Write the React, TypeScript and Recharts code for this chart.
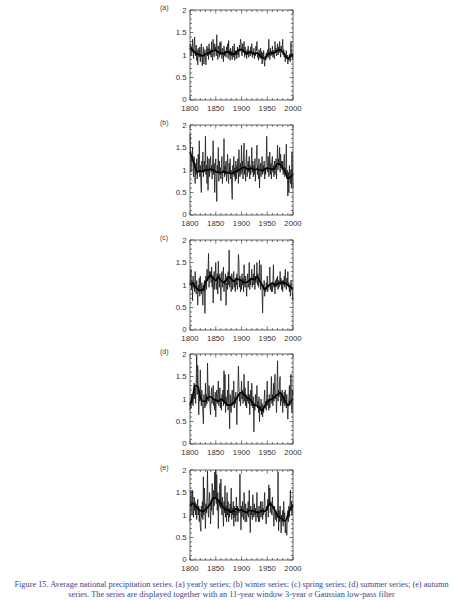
import { LineChart, Line, XAxis, YAxis } from "recharts"

// annual values (x100), one per year starting 1800
const firstYear = 1800
const smoothStep = 5

const yearly = [
  112, 125, 98, 118, 105, 135, 110, 92, 120, 140,
  105, 98, 122, 88, 110, 78, 115, 102, 95, 118,
  85, 110, 125, 92, 76, 105, 118, 80, 100, 112,
  95, 78, 108, 120, 98, 115, 90, 125, 105, 100,
  112, 95, 130, 102, 88, 135, 108, 96, 125, 110,
  118, 98, 145, 105, 90, 120, 110, 95, 128, 100,
  130, 102, 92, 115, 108, 85, 120, 98, 110, 102,
  95, 118, 105, 125, 92, 132, 100, 110, 88, 115,
  98, 108, 90, 120, 102, 95, 125, 88, 110, 100,
  105, 92, 118, 100, 112, 95, 122, 108, 135, 130,
  110, 98, 125, 105, 115, 130, 95, 118, 100, 108,
  92, 112, 100, 120, 95, 105, 110, 98, 118, 102,
  125, 95, 108, 100, 115, 92, 105, 98, 120, 110,
  130, 95, 105, 88, 112, 100, 92, 115, 98, 108,
  80, 105, 95, 110, 85, 75, 98, 88, 105, 92,
  100, 112, 95, 135, 105, 90, 115, 98, 108, 100,
  120, 95, 110, 102, 92, 130, 105, 115, 98, 112,
  125, 100, 118, 105, 130, 110, 95, 120, 108, 115,
  135, 100, 112, 95, 105, 85, 98, 110, 92, 100,
  80, 95, 88, 102, 90, 85, 130, 95, 105, 92,
  102,
]
const yearlySmooth = [
  115, 112, 105, 102, 100, 98, 102, 104, 106, 110, 110, 106, 105, 103, 106, 107, 103, 102, 106, 112,
  112, 108, 104, 106, 105, 103, 104, 100, 94, 92, 100, 104, 104, 106, 110, 112, 106, 98, 92, 98, 100,
]

const winter = [
  180, 140, 95, 130, 120, 150, 100, 85, 130, 110,
  70, 115, 90, 125, 80, 100, 135, 95, 165, 85,
  110, 75, 50, 120, 95, 140, 85, 105, 120, 95,
  175, 90, 110, 70, 130, 55, 100, 125, 85, 115,
  130, 95, 110, 80, 120, 165, 90, 115, 50, 105,
  125, 85, 30, 110, 95, 150, 75, 120, 90, 105,
  80, 115, 130, 70, 100, 95, 170, 85, 110, 90,
  120, 75, 105, 135, 90, 70, 115, 95, 125, 80,
  100, 60, 35, 110, 90, 130, 85, 105, 75, 120,
  80, 110, 95, 125, 70, 145, 100, 85, 115, 90,
  155, 95, 120, 80, 135, 160, 90, 110, 75, 125,
  145, 85, 105, 120, 95, 130, 80, 110, 90, 115,
  150, 95, 120, 85, 110, 90, 125, 75, 105, 130,
  155, 90, 110, 80, 125, 60, 100, 115, 85, 105,
  130, 90, 110, 95, 120, 80, 105, 90, 125, 175,
  110, 95, 130, 85, 105, 140, 90, 115, 80, 120,
  130, 95, 110, 85, 120, 90, 105, 125, 80, 115,
  155, 100, 125, 110, 150, 95, 135, 105, 120, 100,
  120, 90, 110, 135, 85, 105, 95, 157, 80, 100,
  42, 95, 50, 110, 85, 70, 100, 60, 140, 90,
  60,
]
const winterSmooth = [
  140, 125, 105, 96, 98, 97, 100, 100, 102, 100, 96, 95, 94, 96, 95, 94, 92, 94, 97, 100,
  104, 106, 103, 102, 104, 100, 102, 100, 99, 101, 104, 103, 102, 104, 114, 112, 104, 96, 82, 84, 92,
]

const spring = [
  100, 115, 135, 90, 110, 65, 120, 95, 105, 85,
  130, 95, 80, 110, 90, 55, 100, 85, 115, 75,
  120, 90, 80, 105, 75, 55, 100, 85, 110, 37,
  105, 120, 90, 135, 110, 125, 170, 95, 130, 115,
  130, 105, 140, 95, 120, 60, 115, 130, 90, 120,
  150, 105, 90, 125, 80, 153, 110, 95, 125, 100,
  65, 115, 130, 95, 120, 140, 85, 110, 100, 125,
  55, 105, 120, 90, 130, 100, 178, 95, 120, 110,
  85, 125, 105, 90, 120, 130, 95, 110, 85, 115,
  100, 125, 90, 110, 168, 150, 95, 120, 85, 110,
  90, 125, 100, 115, 85, 145, 105, 95, 120, 100,
  75, 110, 125, 95, 105, 150, 90, 115, 100, 120,
  135, 95, 110, 125, 100, 145, 90, 120, 105, 115,
  150, 100, 125, 95, 115, 155, 105, 90, 145, 110,
  85, 38, 100, 90, 110, 75, 95, 85, 105, 90,
  120, 85, 100, 95, 110, 140, 90, 105, 85, 100,
  85, 110, 145, 95, 105, 80, 110, 95, 115, 100,
  120, 90, 110, 95, 105, 130, 100, 115, 90, 110,
  85, 110, 100, 120, 95, 135, 105, 90, 115, 100,
  130, 95, 105, 85, 100, 75, 110, 90, 95, 80,
  65,
]
const springSmooth = [
  100, 104, 96, 90, 88, 90, 104, 115, 122, 116, 110, 118, 110, 106, 110, 118, 114, 108, 114, 112,
  110, 106, 106, 110, 114, 112, 118, 110, 100, 90, 96, 100, 104, 100, 102, 105, 106, 104, 100, 96, 92,
]

const summer = [
  75, 95, 80, 110, 90, 105, 85, 120, 135, 100,
  125, 90, 140, 198, 110, 175, 130, 65, 120, 95,
  165, 100, 85, 120, 90, 70, 45, 110, 95, 80,
  135, 85, 110, 90, 180, 120, 95, 130, 105, 80,
  65, 110, 125, 90, 105, 130, 85, 100, 75, 115,
  60, 100, 120, 90, 110, 140, 85, 95, 125, 80,
  100, 75, 110, 95, 120, 85, 163, 90, 155, 70,
  105, 85, 95, 120, 75, 155, 95, 34, 110, 85,
  70, 100, 120, 85, 95, 140, 80, 105, 90, 115,
  85, 43, 100, 120, 173, 130, 95, 115, 85, 105,
  140, 100, 120, 90, 110, 155, 95, 125, 85, 110,
  80, 105, 95, 140, 90, 110, 65, 100, 120, 85,
  135, 95, 80, 105, 27, 90, 75, 110, 85, 100,
  130, 80, 95, 70, 105, 50, 85, 75, 100, 65,
  90, 60, 85, 70, 100, 120, 80, 95, 75, 110,
  140, 85, 100, 75, 110, 80, 95, 105, 150, 90,
  110, 85, 135, 95, 120, 155, 100, 110, 70, 125,
  185, 95, 120, 105, 140, 150, 85, 110, 95, 120,
  70, 105, 90, 115, 85, 120, 95, 80, 110, 75,
  55, 90, 100, 130, 85, 110, 155, 95, 70, 120,
  110,
]
const summerSmooth = [
  87, 105, 130, 128, 105, 95, 95, 104, 105, 100, 98, 95, 100, 96, 90, 86, 88, 92, 100, 110,
  115, 110, 104, 100, 94, 86, 85, 80, 74, 84, 94, 98, 100, 106, 110, 114, 106, 96, 86, 94, 100,
]

const autumn = [
  85, 130, 155, 120, 100, 155, 125, 95, 140, 110,
  130, 100, 125, 90, 115, 135, 100, 120, 85, 110,
  75, 64, 120, 95, 130, 90, 185, 100, 160, 115,
  70, 125, 105, 140, 198, 110, 95, 130, 150, 115,
  80, 130, 110, 170, 140, 100, 155, 120, 195, 135,
  200, 125, 190, 110, 150, 70, 135, 120, 170, 115,
  180, 125, 100, 140, 110, 75, 130, 105, 165, 95,
  120, 85, 150, 100, 130, 85, 115, 95, 125, 105,
  160, 90, 115, 100, 130, 75, 120, 95, 110, 85,
  140, 100, 120, 85, 115, 105, 130, 191, 110, 67,
  120, 95, 130, 105, 90, 150, 110, 85, 125, 100,
  85, 115, 100, 130, 95, 155, 110, 61, 120, 100,
  110, 90, 145, 105, 95, 125, 100, 115, 85, 110,
  150, 95, 110, 85, 120, 85, 105, 130, 95, 110,
  130, 90, 115, 100, 125, 150, 105, 95, 80, 120,
  110, 135, 95, 167, 120, 160, 105, 130, 115, 100,
  140, 110, 95, 75, 120, 100, 90, 110, 85, 105,
  95, 196, 65, 110, 85, 120, 95, 60, 100, 85,
  110, 75, 130, 90, 105, 60, 85, 70, 55, 95,
  110, 85, 120, 95, 120, 155, 110, 130, 100, 125,
  120,
]
const autumnSmooth = [
  120, 126, 120, 115, 110, 108, 112, 118, 126, 138, 138, 132, 126, 116, 112, 110, 106, 110, 114, 110,
  112, 108, 106, 110, 110, 108, 106, 106, 110, 108, 116, 126, 120, 110, 98, 94, 90, 86, 100, 114, 120,
]

const xTicks = [1800, 1810, 1820, 1830, 1840, 1850, 1860, 1870, 1880, 1890, 1900, 1910, 1920, 1930, 1940, 1950, 1960, 1970, 1980, 1990, 2000]
const xLabels = [1800, 1850, 1900, 1950, 2000]
const yTicks = [0, 0.1, 0.2, 0.3, 0.4, 0.5, 0.6, 0.7, 0.8, 0.9, 1, 1.1, 1.2, 1.3, 1.4, 1.5, 1.6, 1.7, 1.8, 1.9, 2]
const yLabels = [0, 0.5, 1, 1.5, 2]

const panels = [
  { letter: "(a)", top: 10, annual: yearly, smooth: yearlySmooth },
  { letter: "(b)", top: 125, annual: winter, smooth: winterSmooth },
  { letter: "(c)", top: 240, annual: spring, smooth: springSmooth },
  { letter: "(d)", top: 354, annual: summer, smooth: summerSmooth },
  { letter: "(e)", top: 470, annual: autumn, smooth: autumnSmooth },
]

const axisColor = "#222"
const labelColor = "#333"
const sans = "Liberation Sans, Arial, sans-serif"

const isYLabel = (v: number) => yLabels.some((l) => Math.abs(l - v) < 1e-6)

function bottomTick(props: any) {
  const { x, y, payload } = props
  const major = xLabels.includes(payload.value)
  return (
    <g>
      <line x1={x} x2={x} y1={y} y2={y - (major ? 3.5 : 2)} stroke={axisColor} strokeWidth={0.6} />
      {major && (
        <text x={x} y={y + 10.5} textAnchor="middle" fontSize={7.8} fill={labelColor} fontFamily={sans}>
          {payload.value}
        </text>
      )}
    </g>
  )
}

function topTick(props: any) {
  const { x, y, payload } = props
  const major = xLabels.includes(payload.value)
  return <line x1={x} x2={x} y1={y} y2={y + (major ? 3.5 : 2)} stroke={axisColor} strokeWidth={0.6} />
}

function leftTick(props: any) {
  const { x, y, payload } = props
  const major = isYLabel(payload.value)
  return (
    <g>
      <line x1={x} x2={x + (major ? 3.5 : 2)} y1={y} y2={y} stroke={axisColor} strokeWidth={0.6} />
      {major && (
        <text x={x - 3.5} y={y + (payload.value === 0 ? 1.5 : 2.8)} textAnchor="end" fontSize={7.8} fill={labelColor} fontFamily={sans}>
          {payload.value}
        </text>
      )}
    </g>
  )
}

function rightTick(props: any) {
  const { x, y, payload } = props
  const major = isYLabel(payload.value)
  return <line x1={x} x2={x - (major ? 3.5 : 2)} y1={y} y2={y} stroke={axisColor} strokeWidth={0.6} />
}

function Panel({ letter, top, annual, smooth }: { letter: string; top: number; annual: number[]; smooth: number[] }) {
  const annualRows = annual.map((v, i) => ({ year: firstYear + i, value: v / 100 }))
  const smoothRows = smooth.map((v, i) => ({ year: firstYear + smoothStep * i, value: v / 100 }))

  return (
    <div style={{ position: "absolute", left: 0, top: top - 10, width: 455, height: 115 }}>
      <div
        style={{
          position: "absolute",
          left: 160,
          top: 4,
          fontFamily: sans,
          fontSize: 7,
          lineHeight: "8px",
          color: "#444",
        }}
      >
        {letter}
      </div>
      <LineChart width={455} height={115} margin={{ top: 9, right: 161, bottom: 14, left: 189 }}>
        <XAxis
          xAxisId="bottom"
          dataKey="year"
          type="number"
          domain={[1800, 2000]}
          ticks={xTicks}
          interval={0}
          tick={bottomTick}
          tickLine={false}
          tickSize={0}
          tickMargin={0}
          height={1}
          stroke={axisColor}
          strokeWidth={0.7}
        />
        <XAxis
          xAxisId="top"
          orientation="top"
          dataKey="year"
          type="number"
          domain={[1800, 2000]}
          ticks={xTicks}
          interval={0}
          tick={topTick}
          tickLine={false}
          tickSize={0}
          tickMargin={0}
          height={1}
          stroke={axisColor}
          strokeWidth={0.7}
        />
        <YAxis
          yAxisId="left"
          type="number"
          domain={[0, 2]}
          ticks={yTicks}
          interval={0}
          tick={leftTick}
          tickLine={false}
          tickSize={0}
          tickMargin={0}
          width={1}
          stroke={axisColor}
          strokeWidth={0.7}
        />
        <YAxis
          yAxisId="right"
          orientation="right"
          type="number"
          domain={[0, 2]}
          ticks={yTicks}
          interval={0}
          tick={rightTick}
          tickLine={false}
          tickSize={0}
          tickMargin={0}
          width={1}
          stroke={axisColor}
          strokeWidth={0.7}
        />
        <Line
          xAxisId="bottom"
          yAxisId="left"
          data={annualRows}
          dataKey="value"
          type="linear"
          stroke="#1a1a1a"
          strokeWidth={0.8}
          dot={false}
          isAnimationActive={false}
        />
        <Line
          xAxisId="top"
          yAxisId="right"
          data={smoothRows}
          dataKey="value"
          type="monotone"
          stroke="#000"
          strokeWidth={1.7}
          dot={false}
          isAnimationActive={false}
        />
      </LineChart>
    </div>
  )
}

export default function App() {
  return (
    <div style={{ position: "absolute", left: 0, top: 0, width: 455, height: 600, background: "#fff" }}>
      {panels.map((p) => (
        <Panel key={p.letter} {...p} />
      ))}
      <div
        style={{
          position: "absolute",
          left: 8,
          top: 580,
          width: 447,
          textAlign: "center",
          fontFamily: "Liberation Serif, Times New Roman, serif",
          fontSize: 8.3,
          lineHeight: "9.5px",
          color: "#34468f",
          whiteSpace: "nowrap",
        }}
      >
        Figure 15. Average national precipitation series. (a) yearly series; (b) winter series; (c) spring series; (d) summer
        series; (e) autumn
        <br />
        series. The series are displayed together with an 11-year window 3-year <i>σ</i> Gaussian low-pass filter
      </div>
    </div>
  )
}
